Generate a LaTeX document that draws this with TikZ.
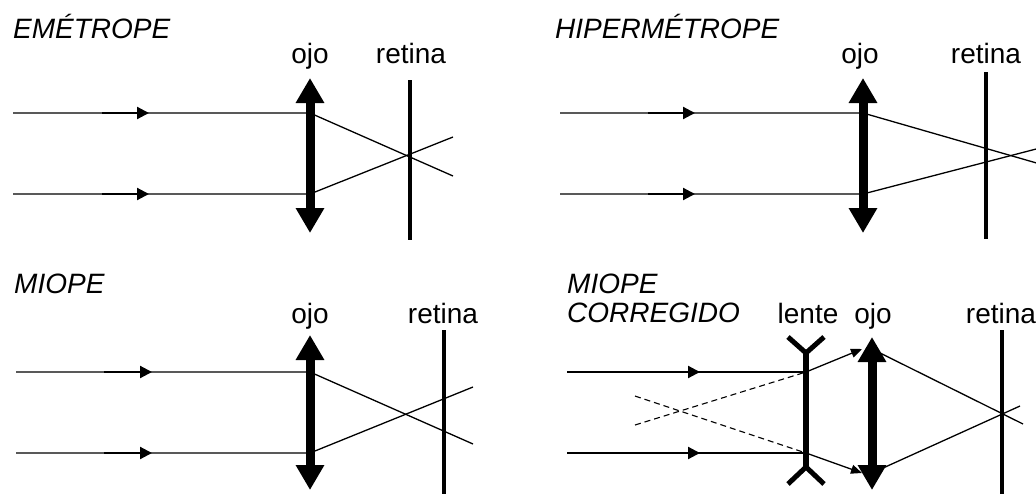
\documentclass[tikz,border=0pt]{standalone}
\usepackage{fontspec}
\setmainfont{Liberation Sans}
\usetikzlibrary{arrows.meta}
\tikzset{
  ray/.style={line width=1.3pt},
  raydash/.style={line width=1.1pt, dash pattern=on 6pt off 4pt},
  raymark/.style={line width=2.2pt, -{Triangle[length=12pt,width=12pt]}},
  smallmark/.style={line width=1.3pt, -{Triangle[length=11pt,width=9pt]}},
  eyelens/.style={line width=9pt, {Triangle[width=27pt,length=25pt]}-{Triangle[width=27pt,length=25pt]}},
  retinaline/.style={line width=4pt},
  concave/.style={line width=5pt},
  lbl/.style={font=\fontsize{28}{32}\selectfont, inner sep=0pt, anchor=base},
  ttl/.style={font=\fontsize{28}{30}\selectfont\itshape, inner sep=0pt, anchor=base west, align=left}
}
\begin{document}
\begin{tikzpicture}[x=1pt,y=-1pt]
\useasboundingbox (0,0) rectangle (1036,493);
\clip (0,0) rectangle (1036,493);

% ---------- EMETROPE ----------
\node[ttl] (t1) at (13,38) {EMÉTROPE};
\node[lbl] (ojo1) at (310,63) {ojo};
\node[lbl] (ret1) at (411,63) {retina};
\coordinate (e1a) at (13,113);   \coordinate (e1b) at (13,194);
\coordinate (e1la) at (310,113); \coordinate (e1lb) at (310,194);
\coordinate (e1ea) at (453,176); \coordinate (e1eb) at (453,137);
\draw[ray] (e1a) -- (e1la) -- (e1ea);
\draw[ray] (e1b) -- (e1lb) -- (e1eb);
\coordinate (m1a) at (102,113); \coordinate (m1at) at (149,113);
\coordinate (m1b) at (102,194); \coordinate (m1bt) at (149,194);
\draw[raymark] (m1a) -- (m1at);
\draw[raymark] (m1b) -- (m1bt);
\coordinate (L1t) at (310,78); \coordinate (L1b) at (310,233);
\draw[eyelens] (L1t) -- (L1b);
\coordinate (R1t) at (410,80); \coordinate (R1b) at (410,240);
\draw[retinaline] (R1t) -- (R1b);

% ---------- HIPERMETROPE ----------
\node[ttl] (t2) at (555,38) {HIPERMÉTROPE};
\node[lbl] (ojo2) at (860,63) {ojo};
\node[lbl] (ret2) at (986,63) {retina};
\coordinate (e2a) at (560,113);  \coordinate (e2b) at (560,194);
\coordinate (e2la) at (863,113); \coordinate (e2lb) at (863,194);
\coordinate (e2ea) at (1040,164); \coordinate (e2eb) at (1040,148);
\draw[ray] (e2a) -- (e2la) -- (e2ea);
\draw[ray] (e2b) -- (e2lb) -- (e2eb);
\coordinate (m2a) at (648,113); \coordinate (m2at) at (695,113);
\coordinate (m2b) at (648,194); \coordinate (m2bt) at (695,194);
\draw[raymark] (m2a) -- (m2at);
\draw[raymark] (m2b) -- (m2bt);
\coordinate (L2t) at (863,78); \coordinate (L2b) at (863,233);
\draw[eyelens] (L2t) -- (L2b);
\coordinate (R2t) at (986,72); \coordinate (R2b) at (986,239);
\draw[retinaline] (R2t) -- (R2b);

% ---------- MIOPE ----------
\node[ttl] (t3) at (14,293) {MIOPE};
\node[lbl] (ojo3) at (310,323) {ojo};
\node[lbl] (ret3) at (443,323) {retina};
\coordinate (e3a) at (16,372);   \coordinate (e3b) at (16,453);
\coordinate (e3la) at (310,372); \coordinate (e3lb) at (310,453);
\coordinate (e3ea) at (473,444); \coordinate (e3eb) at (473,387);
\draw[ray] (e3a) -- (e3la) -- (e3ea);
\draw[ray] (e3b) -- (e3lb) -- (e3eb);
\coordinate (m3a) at (104,372); \coordinate (m3at) at (152,372);
\coordinate (m3b) at (104,453); \coordinate (m3bt) at (152,453);
\draw[raymark] (m3a) -- (m3at);
\draw[raymark] (m3b) -- (m3bt);
\coordinate (L3t) at (310,335); \coordinate (L3b) at (310,490);
\draw[eyelens] (L3t) -- (L3b);
\coordinate (R3t) at (444,330); \coordinate (R3b) at (444,495);
\draw[retinaline] (R3t) -- (R3b);

% ---------- MIOPE CORREGIDO ----------
\node[ttl] (t4a) at (567,293) {MIOPE};
\node[ttl] (t4b) at (567,322) {CORREGIDO};
\node[lbl] (lente4) at (808,323) {lente};
\node[lbl] (ojo4) at (873,323) {ojo};
\node[lbl] (ret4) at (1001,323) {retina};
\coordinate (e4a) at (567,372);  \coordinate (e4b) at (567,453);
\coordinate (c4a) at (806,372);  \coordinate (c4b) at (806,453);
\draw[ray] (e4a) -- (c4a);
\draw[ray] (e4b) -- (c4b);
\coordinate (m4a) at (653,372); \coordinate (m4at) at (700,372);
\coordinate (m4b) at (653,453); \coordinate (m4bt) at (700,453);
\draw[raymark] (m4a) -- (m4at);
\draw[raymark] (m4b) -- (m4bt);
% virtual rays
\coordinate (d4a) at (635,425); \coordinate (d4b) at (635,396);
\draw[raydash] (d4a) -- (c4a);
\draw[raydash] (d4b) -- (c4b);
% diverged rays to eye lens
\coordinate (k4a) at (862,349); \coordinate (k4b) at (862,473);
\draw[smallmark] (c4a) -- (k4a);
\draw[smallmark] (c4b) -- (k4b);
% refracted by eye
\coordinate (o4a) at (872,349); \coordinate (o4b) at (872,473);
\coordinate (f4a) at (1023,424); \coordinate (f4b) at (1020,406);
\draw[ray] (o4a) -- (f4a);
\draw[ray] (o4b) -- (f4b);
% concave lens
\coordinate (C4t) at (806,353); \coordinate (C4b) at (806,467);
\coordinate (C4tl) at (788,337); \coordinate (C4tr) at (824,337);
\coordinate (C4bl) at (788,484); \coordinate (C4br) at (824,484);
\draw[concave, line width=5.5pt] (C4t) -- (C4b);
\draw[concave, line join=miter] (C4tl) -- (C4t) -- (C4tr);
\draw[concave, line join=miter] (C4bl) -- (C4b) -- (C4br);
% eye lens
\coordinate (L4t) at (872,337); \coordinate (L4b) at (872,490);
\draw[eyelens] (L4t) -- (L4b);
\coordinate (R4t) at (1002,330); \coordinate (R4b) at (1002,495);
\draw[retinaline] (R4t) -- (R4b);
\end{tikzpicture}
\end{document}
